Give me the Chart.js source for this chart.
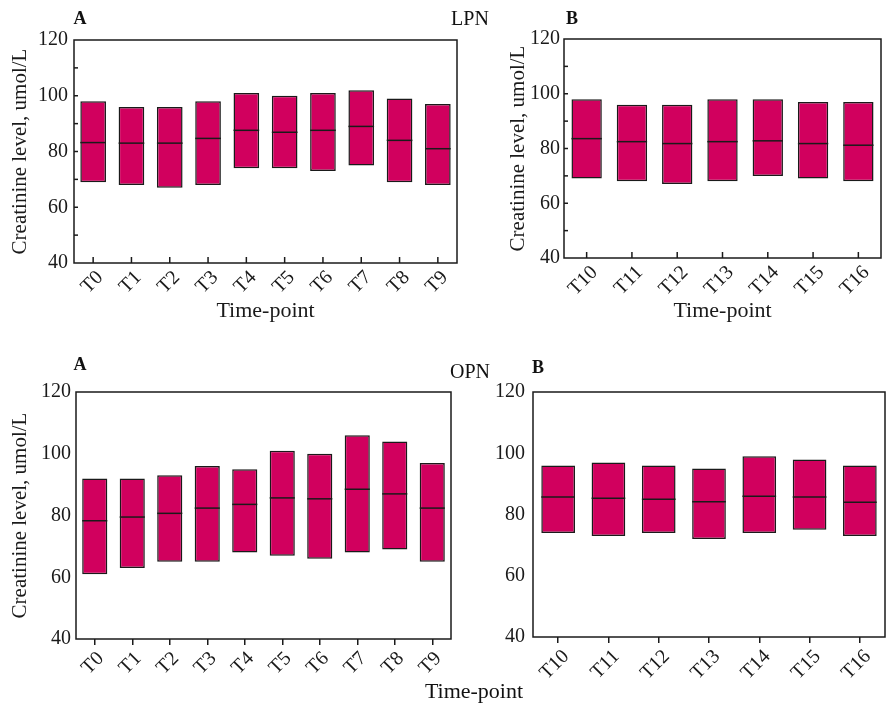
<!DOCTYPE html>
<html>
<head>
<meta charset="utf-8">
<script src="https://cdn.jsdelivr.net/npm/chart.js@4"></script>
<style>
  body { margin: 0; background: #fff; width: 886px; height: 707px; position: relative; overflow: hidden; font-family: 'Liberation Serif', serif; color: #111; }
  canvas { position: absolute; }
  .lbl { position: absolute; transform: translate(-50%, -50%); white-space: nowrap; line-height: 1; }
  .bold { font-weight: bold; font-size: 18px; }
</style>
</head>
<body>
<canvas id="lpnEarly" width="490" height="330" style="left:0;top:0"></canvas>
<canvas id="lpnLate" width="396" height="330" style="left:490px;top:0"></canvas>
<canvas id="opnEarly" width="490" height="357" style="left:0;top:350px"></canvas>
<canvas id="opnLate" width="396" height="357" style="left:490px;top:350px"></canvas>

<div class="lbl bold" style="left:80px;top:18px">A</div>
<div class="lbl" style="left:470px;top:18px;font-size:20px">LPN</div>
<div class="lbl bold" style="left:572px;top:18px">B</div>
<div class="lbl bold" style="left:80px;top:364px">A</div>
<div class="lbl" style="left:470px;top:371px;font-size:20px">OPN</div>
<div class="lbl bold" style="left:538px;top:367px">B</div>
<div class="lbl" style="left:474px;top:691px;font-size:22px">Time-point</div>

<script>
"use strict";
// values (umol/L)
const earlyLabels = ['T0', 'T1', 'T2', 'T3', 'T4', 'T5', 'T6', 'T7', 'T8', 'T9'];
const lateLabels = ['T10', 'T11', 'T12', 'T13', 'T14', 'T15', 'T16'];

const lpnEarlyLow = [69, 68, 67, 68, 74, 74, 73, 75, 69, 68];
const lpnEarlyHigh = [98, 96, 96, 98, 101, 100, 101, 102, 99, 97];
const lpnEarlyMedian = [83.2, 83, 83, 84.7, 87.6, 86.9, 87.6, 89, 84, 81];

const lpnLateLow = [69, 68, 67, 68, 70, 69, 68];
const lpnLateHigh = [98, 96, 96, 98, 98, 97, 97];
const lpnLateMedian = [83.6, 82.5, 81.8, 82.5, 82.8, 81.8, 81.2];

const opnEarlyLow = [61, 63, 65, 65, 68, 67, 66, 68, 69, 65];
const opnEarlyHigh = [92, 92, 93, 96, 95, 101, 100, 106, 104, 97];
const opnEarlyMedian = [78.3, 79.5, 80.7, 82.4, 83.6, 85.7, 85.4, 88.5, 87, 82.4];

const opnLateLow = [74, 73, 74, 72, 74, 75, 73];
const opnLateHigh = [96, 97, 96, 95, 99, 98, 96];
const opnLateMedian = [85.7, 85.3, 85, 84.2, 86, 85.7, 84];

const yMin = 40, yMax = 120, yStep = 20, yMinorStep = 10;

const FONT = "'Liberation Serif', serif";
const BAR_COLOR = '#D1005E';
const INK = '#1a1a1a';

// median lines, frame box and inward ticks
const boxFrame = {
    id: 'boxFrame',
    afterDatasetsDraw(chart, args, opts) {
        const { ctx, chartArea: a, scales: { x, y } } = chart;
        const meta = chart.getDatasetMeta(0);
        const line = (x1, y1, x2, y2) => {
            ctx.beginPath();
            ctx.moveTo(x1, y1);
            ctx.lineTo(x2, y2);
            ctx.stroke();
        };
        ctx.save();
        ctx.strokeStyle = INK;
        ctx.lineWidth = 1.5;
        meta.data.forEach((bar, i) => {
            const py = y.getPixelForValue(opts.median[i]);
            line(bar.x - bar.width / 2, py, bar.x + bar.width / 2, py);
        });
        ctx.strokeRect(a.left, a.top, a.right - a.left, a.bottom - a.top);
        if (opts.inward) {
            for (let v = yMin + yMinorStep; v < yMax; v += yMinorStep) {
                const py = y.getPixelForValue(v);
                line(a.left, py, a.left + 4, py);
            }
            x.ticks.forEach((t, i) => {
                const px = x.getPixelForTick(i);
                line(px, a.bottom, px, a.bottom - 6);
            });
        }
        ctx.restore();
    }
};

function makePanel(id, labels, low, high, median, p) {
    const ctx = document.getElementById(id).getContext('2d');
    new Chart(ctx, {
        type: 'bar',
        data: {
            labels: labels,
            datasets: [{
                data: labels.map((l, i) => [low[i], high[i]]),
                backgroundColor: BAR_COLOR,
                borderColor: INK,
                borderWidth: 1.5,
                borderSkipped: false,
                barPercentage: 0.67,
                categoryPercentage: 1
            }]
        },
        options: {
            responsive: false,
            animation: false,
            layout: { padding: { top: p.top, right: p.right, left: 0, bottom: 0 } },
            plugins: {
                legend: { display: false },
                tooltip: { enabled: false },
                boxFrame: { median: median, inward: p.inward }
            },
            scales: {
                x: {
                    grid: {
                        display: !p.inward,
                        offset: false,
                        drawOnChartArea: false,
                        drawTicks: !p.inward,
                        tickLength: 6,
                        color: INK,
                        lineWidth: 1.5
                    },
                    border: { display: false },
                    ticks: {
                        color: INK,
                        font: { family: FONT, size: 20 },
                        maxRotation: 45,
                        minRotation: 45,
                        labelOffset: p.labelShift,
                        padding: p.xPad
                    },
                    title: {
                        display: !!p.xTitle,
                        text: 'Time-point',
                        color: INK,
                        font: { family: FONT, size: 22 },
                        padding: { top: 0, bottom: 6 }
                    },
                    afterFit: s => { s.height = p.xHeight; }
                },
                y: {
                    min: yMin,
                    max: yMax,
                    grid: { display: false, drawTicks: false },
                    border: { display: false },
                    ticks: {
                        stepSize: yStep,
                        color: INK,
                        font: { family: FONT, size: 20 },
                        padding: p.yPad
                    },
                    title: {
                        display: p.yTitle,
                        text: 'Creatinine level, umol/L',
                        color: INK,
                        font: { family: FONT, size: 21 },
                        padding: { top: p.yTitlePad, bottom: 0 }
                    },
                    afterFit: s => { s.width = p.yWidth; }
                }
            }
        },
        plugins: [boxFrame]
    });
}

makePanel('lpnEarly', earlyLabels, lpnEarlyLow, lpnEarlyHigh, lpnEarlyMedian,
    { top: 40, right: 33, yWidth: 74, xHeight: 67, yPad: 6, yTitle: true, yTitlePad: 8, xTitle: true, inward: true, labelShift: 7, xPad: 3 });
makePanel('lpnLate', lateLabels, lpnLateLow, lpnLateHigh, lpnLateMedian,
    { top: 39, right: 5, yWidth: 74, xHeight: 72, yPad: 4, yTitle: true, yTitlePad: 16, xTitle: true, inward: true, labelShift: 8, xPad: 3 });
makePanel('opnEarly', earlyLabels, opnEarlyLow, opnEarlyHigh, opnEarlyMedian,
    { top: 42, right: 39, yWidth: 76, xHeight: 68, yPad: 5, yTitle: true, yTitlePad: 8, xTitle: false, inward: false, labelShift: 6, xPad: 2 });
makePanel('opnLate', lateLabels, opnLateLow, opnLateHigh, opnLateMedian,
    { top: 42, right: 1, yWidth: 43, xHeight: 70, yPad: 8, yTitle: false, yTitlePad: 0, xTitle: false, inward: false, labelShift: 8, xPad: 2 });
</script>
</body>
</html>
